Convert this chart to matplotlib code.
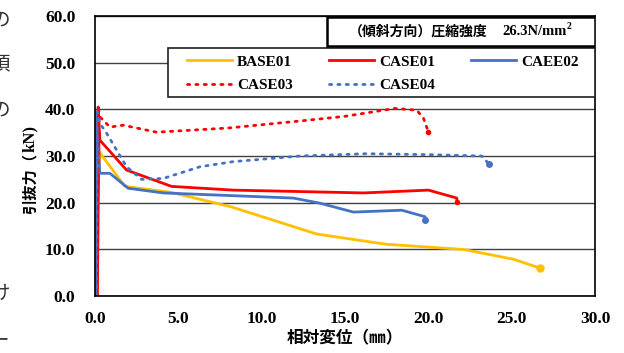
import matplotlib.pyplot as plt
from matplotlib.patches import Rectangle

plt.rcParams['font.family'] = ['Liberation Serif', 'Noto Sans CJK JP']

# 読み取ったデータ
base01_x = [0.15, 0.2, 0.3, 1.8, 4.6, 8.2, 13.3, 17.5, 22.1, 25.1, 26.7]
base01_y = [0.0, 25.0, 30.7, 23.5, 22.2, 19.1, 13.3, 11.1, 10.0, 7.9, 6.0]

case01_x = [0.15, 0.2, 0.25, 0.2, 0.3, 1.9, 4.6, 8.3, 13.5, 16.1, 20.0, 21.7, 21.7]
case01_y = [0.0, 20.0, 31.0, 40.5, 33.4, 27.0, 23.5, 22.7, 22.3, 22.1, 22.7, 21.0, 20.1]

caee02_x = [0.05, 0.05, 0.3, 0.9, 2.0, 4.1, 11.9, 13.5, 15.5, 18.4, 19.8, 19.8]
caee02_y = [0.0, 39.5, 26.3, 26.3, 23.1, 22.1, 21.0, 19.9, 18.0, 18.4, 17.0, 16.3]

case03_x = [0.15, 0.2, 0.3, 0.9, 1.7, 3.7, 8.0, 12.3, 15.0, 18.0, 19.3, 19.7, 20.0]
case03_y = [0.0, 40.5, 38.4, 36.2, 36.6, 35.1, 36.0, 37.5, 38.5, 40.2, 39.8, 38.1, 35.1]

case04_x = [0.1, 0.15, 0.3, 0.7, 1.3, 1.9, 2.8, 4.1, 6.3, 8.3, 12.3, 16.3, 20.0, 23.2, 23.6]
case04_y = [0.0, 39.5, 37.0, 34.9, 31.3, 27.7, 25.0, 25.2, 27.7, 28.8, 30.0, 30.5, 30.3, 30.0, 28.4]

yticks = [0, 10, 20, 30, 40, 50, 60]
xticks = [0, 5, 10, 15, 20, 25, 30]

fig = plt.figure(figsize=(6.24, 3.53), dpi=100)
ax = fig.add_axes([0.152, 0.161, 0.802, 0.794])

orange = '#FFC000'
red = '#FF0000'
blue = '#4472C4'
dot = (0, (0.8, 2.2))

l1, = ax.plot(base01_x, base01_y, color=orange, lw=2, marker='o', ms=5, markevery=[-1], label='BASE01')
l2, = ax.plot(case01_x, case01_y, color=red, lw=2, marker='o', ms=3, markevery=[-1], label='CASE01')
l3, = ax.plot(caee02_x, caee02_y, color=blue, lw=2, marker='o', ms=4, markevery=[-1], label='CAEE02')
l4, = ax.plot(case03_x, case03_y, color=red, lw=2, ls=dot, dash_capstyle='round', marker='o', ms=3, markevery=[-1], label='CASE03')
l5, = ax.plot(case04_x, case04_y, color=blue, lw=2, ls=dot, dash_capstyle='round', marker='o', ms=4, markevery=[-1], label='CASE04')

ax.set_xlim(0, 30)
ax.set_ylim(0, 60)
ax.set_xticks(xticks)
ax.set_yticks(yticks)
ax.set_xticklabels([f'{v:.1f}' for v in xticks], fontweight='bold', fontsize=12.5)
ax.set_yticklabels([f'{v:.1f}' for v in yticks], fontweight='bold', fontsize=12.5)
ax.tick_params(axis='y', length=0, pad=14)
ax.tick_params(axis='x', length=0, pad=11)
ax.grid(axis='y', color='#404040', lw=1)
ax.set_axisbelow(True)
for s in ax.spines.values():
    s.set_color('black')
    s.set_linewidth(1.2)

ax.set_xlabel('相対変位（㎜）', family=['Noto Sans CJK JP'], fontweight='bold', fontsize=12, labelpad=1)

# 縦軸ラベル（漢字はゴシック、kN は明朝系）
fig.text(30 / 624, 1 - 183 / 353, '引抜力（', rotation=90, ha='center', va='center',
         family=['Noto Sans CJK JP'], fontweight='bold', fontsize=11)
fig.text(30 / 624, 1 - 139 / 353, 'kN)', rotation=90, ha='center', va='center',
         fontweight='bold', fontsize=12)

# 凡例の枠
ax.add_patch(Rectangle((0.146, 0.711), 0.854, 0.175, transform=ax.transAxes,
                       facecolor='white', edgecolor='#202020', lw=1.2, zorder=4))
leg = ax.legend(handles=[l1, l4, l2, l5, l3], ncol=3, loc='upper left',
                bbox_to_anchor=(0.184, 0.860), frameon=False,
                prop={'family': 'Liberation Serif', 'weight': 'bold', 'size': 11},
                handlelength=2.95, handletextpad=0.33, borderaxespad=0, borderpad=0,
                labelspacing=0.65, columnspacing=2.35)
leg.set_zorder(5)
for h in leg.legend_handles:
    h.set_marker('')

# 右上の注記ボックス
ax.add_patch(Rectangle((0.464, 0.893), 0.536, 0.103, transform=ax.transAxes,
                       facecolor='white', edgecolor='black', lw=1.8, zorder=6))
ax.text(0.646, 0.944, '（傾斜方向）圧縮強度', transform=ax.transAxes, ha='center', va='center',
        family=['Noto Sans CJK JP'], fontweight='bold', fontsize=10, zorder=7)
ax.text(0.814, 0.944, '26.3N/mm', transform=ax.transAxes, ha='left', va='center',
        fontweight='bold', fontsize=10.5, zorder=7)
ax.text(0.943, 0.962, '2', transform=ax.transAxes, ha='left', va='center',
        fontweight='bold', fontsize=7, zorder=7)

# 左端で切れている本文
side = ['の', '頃', 'の', '）', '〉', '、', 'け', 'ー']
side_y = [20, 65, 110, 163, 197, 260, 293, 340]
for ch, py in zip(side, side_y):
    fig.text(0.0, 1 - py / 353, ch, ha='center', va='center', family=['Noto Sans CJK JP'],
             fontsize=14, color='#333333')

fig.savefig('out.png', dpi=100)
